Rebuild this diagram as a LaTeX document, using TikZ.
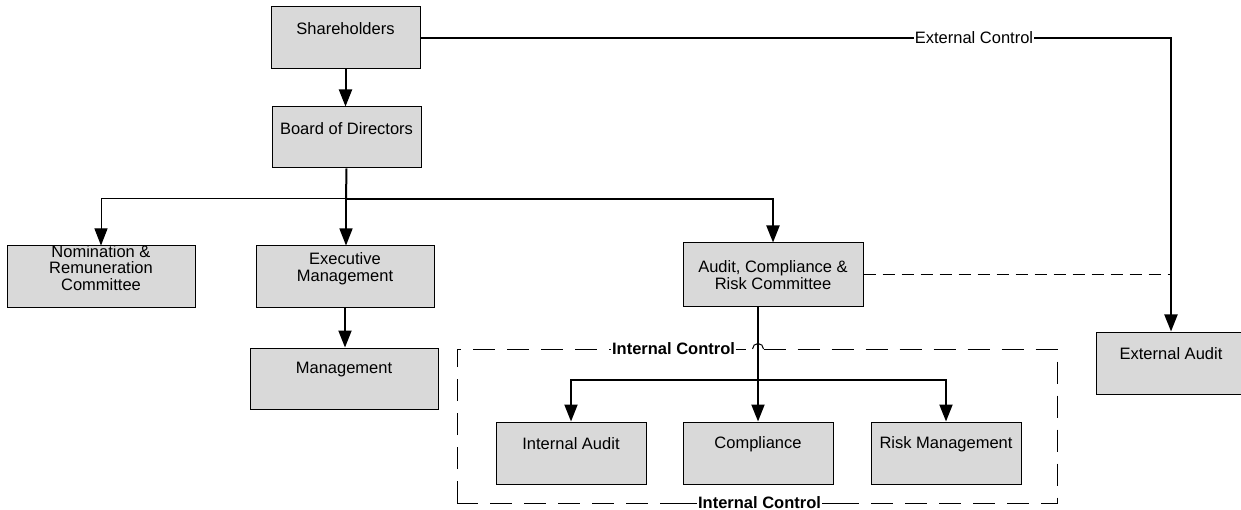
\documentclass[tikz,border=0pt]{standalone}
\usepackage{fontspec}
\setmainfont{Liberation Sans}
\usetikzlibrary{arrows.meta,calc}
\definecolor{boxgray}{RGB}{217,217,217}
\begin{document}
\begin{tikzpicture}[x=1pt,y=-1pt,
  box/.style={draw=black,line width=1pt,fill=boxgray,inner sep=0pt},
  txt/.style={font=\fontsize{16.5}{16.5}\selectfont,align=center,inner sep=0pt},
  btxt/.style={font=\fontsize{16.5}{16.5}\selectfont\bfseries,inner sep=1pt},
  arr/.style={-{Triangle[length=17pt 0 0,width=13pt 0 0]}},
  thinl/.style={line width=1pt},
  medl/.style={line width=1.4pt},
  thickl/.style={line width=2pt},
  dashl/.style={line width=1pt,dash pattern=on 12pt off 7pt},
  contl/.style={line width=1pt,dash pattern=on 22pt off 12pt}]
\useasboundingbox (0,0) rectangle (1241,510);
\clip (0,0) rectangle (1241,510);
% boxes
\node[box,minimum width=149pt,minimum height=62pt] (sh) at (345.5,38) {};
\node[txt] (sht) at (345.5,29) {Shareholders};
\node[box,minimum width=149pt,minimum height=61pt] (bd) at (346.5,137.5) {};
\node[txt] (bdt) at (346.5,129) {Board of Directors};
\node[box,minimum width=188pt,minimum height=62pt] (nom) at (101,277) {};
\node[txt] (nomt) at (101,268) {Nomination \&\\Remuneration\\Committee};
\node[box,minimum width=178pt,minimum height=62pt] (exe) at (345,277) {};
\node[txt] (exet) at (345,268.5) {Executive\\Management};
\node[box,minimum width=188pt,minimum height=61pt] (mgt) at (344,378.5) {};
\node[txt] (mgtt) at (344,370) {Management};
\node[box,minimum width=180pt,minimum height=64pt] (acr) at (773,275) {};
\node[txt] (acrt) at (773,275) {Audit, Compliance \&\\Risk Committee};
\node[box,minimum width=150pt,minimum height=62pt] (ia) at (571,453) {};
\node[txt] (iat) at (571,444) {Internal Audit};
\node[box,minimum width=150pt,minimum height=62pt] (co) at (758,453) {};
\node[txt] (cot) at (758,444) {Compliance};
\node[box,minimum width=150pt,minimum height=62pt] (rm) at (946,453) {};
\node[txt] (rmt) at (946,444) {Risk Management};
\node[box,minimum width=150pt,minimum height=62pt] (ea) at (1171,363) {};
\node[txt] (eat) at (1171,354) {External Audit};
% junctions
\coordinate (j1) at (346,199);
\coordinate (j2) at (758,380);
% connectors from the board
\draw[thickl,arr] (sh.south) -- (sh.south |- bd.north);
\draw[thickl] (bd.south) -- (j1);
\draw[thinl,arr] (j1) -| (nom.north);
\draw[medl,arr] (j1) -- (j1 |- exe.north);
\draw[thickl,arr] (j1) -| (acr.north);
\draw[thickl,arr] (exe.south) -- (exe.south |- mgt.north);
% external control
\draw[thickl,arr] (sh.east) -| (ea.north);
\node[font=\fontsize{16.5}{16.5}\selectfont,inner sep=1pt,fill=white] (ec) at (974,38) {External Control};
\draw[dashl] (acr.east) -- (acr.east -| ea.north);
% internal control container
\coordinate (ctl) at (457,349);
\coordinate (ctr) at (1057,349);
\coordinate (cbr) at (1057,503);
\coordinate (cbl) at (457,503);
\node[btxt] (ict) at (673.5,349) {Internal Control};
\node[btxt] (icb) at (759.5,503) {Internal Control};
\draw[contl] (cbl) -- (ctl) -- (ict.west);
\draw[thinl] (ict.east) -- (746,349);
\draw[thinl] (752.5,349) arc[start angle=180,end angle=360,radius=5.5];
\draw[contl] (763.5,349) -- (ctr) -- (cbr) -- ($(icb.east)+(15,0)$);
\draw[thinl] (icb.east) -- ++(15,0);
\draw[contl] ($(icb.west)+(-15,0)$) -- (cbl);
\draw[thinl] (icb.west) -- ++(-15,0);
% internal control connectors
\draw[thickl] (acr.south -| j2) -- (j2);
\draw[thickl,arr] (j2) -- (j2 |- co.north);
\draw[thickl,arr] (j2) -| (ia.north);
\draw[thickl,arr] (j2) -| (rm.north);
\end{tikzpicture}
\end{document}
